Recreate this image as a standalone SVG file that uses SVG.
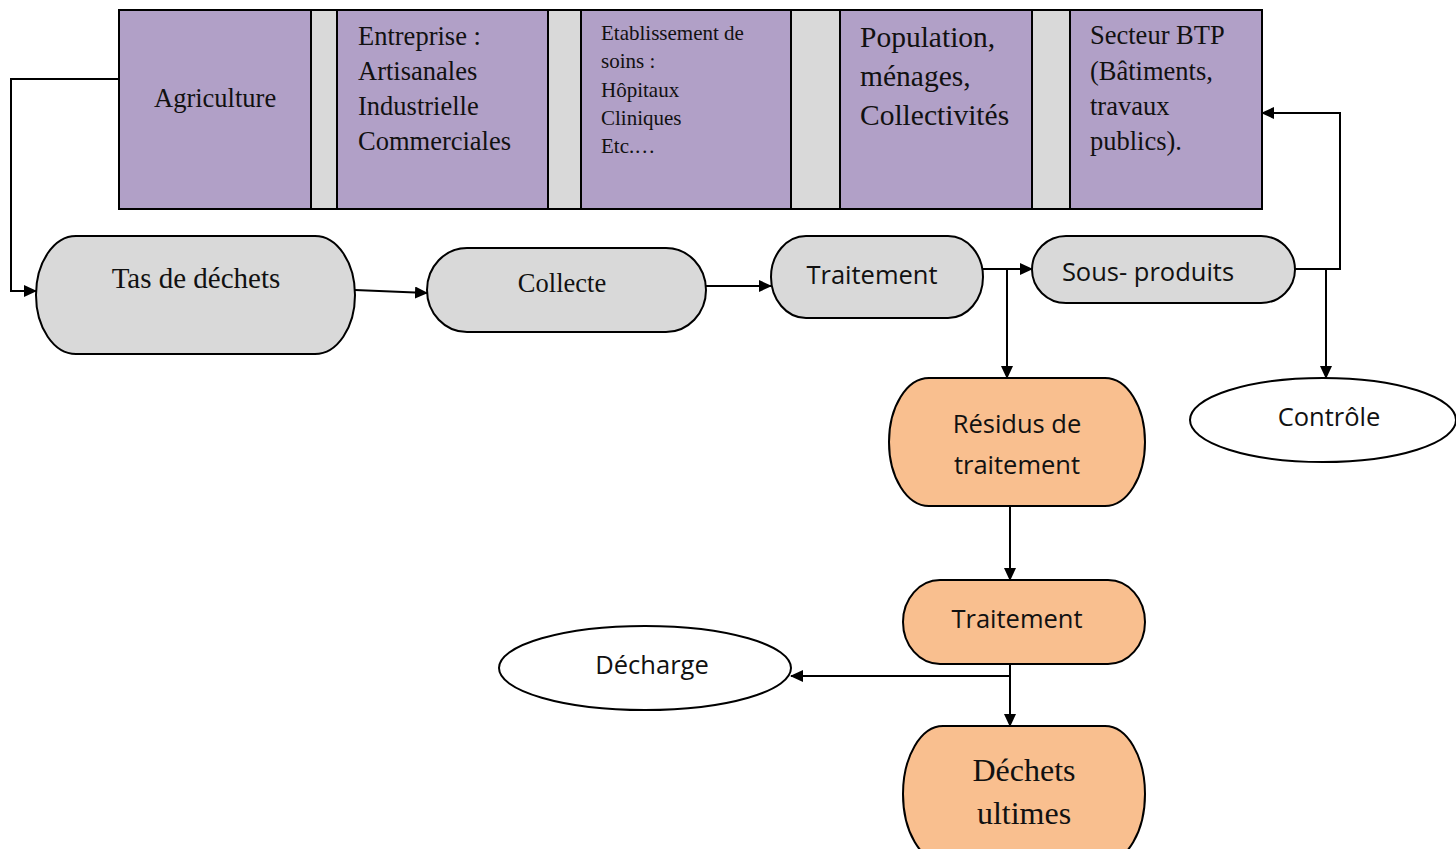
<svg xmlns="http://www.w3.org/2000/svg" width="1456" height="849" viewBox="0 0 1456 849">
<defs>
<marker id="ah" markerWidth="13" markerHeight="12" refX="12" refY="6" orient="auto" markerUnits="userSpaceOnUse">
<path d="M0,0 L13,6 L0,12 Z" fill="#000"/>
</marker>
<style>
.purple{fill:#B1A0C7;stroke:#000;stroke-width:2}
.sep{fill:#D9D9D9;stroke:#000;stroke-width:2}
.gray{fill:#D9D9D9;stroke:#000;stroke-width:2}
.orange{fill:#F9BF8F;stroke:#000;stroke-width:2}
.oval{fill:#fff;stroke:#000;stroke-width:2}
.serif{font-family:"Liberation Serif","Times New Roman",serif;fill:#111}
.sans{font-family:"Open Sans","Noto Sans",sans-serif;fill:#111}
.c{stroke:#000;stroke-width:2;fill:none}
</style>
</defs>
<rect width="1456" height="849" fill="#fff"/>

<g id="sources">
<rect class="purple" x="119" y="10" width="1143" height="199"/>
<g id="agriculture">
<rect class="purple" x="119" y="10" width="192" height="199"/>
<text class="serif" x="154" y="107" font-size="26.5">Agriculture</text>
</g>
<rect class="sep" x="311" y="10" width="26" height="199"/>
<g id="entreprise">
<rect class="purple" x="337" y="10" width="211" height="199"/>
<text class="serif" font-size="26.5"><tspan x="358" y="45">Entreprise :</tspan><tspan x="358" y="80">Artisanales</tspan><tspan x="358" y="115">Industrielle</tspan><tspan x="358" y="150">Commerciales</tspan></text>
</g>
<rect class="sep" x="548" y="10" width="33" height="199"/>
<g id="soins">
<rect class="purple" x="581" y="10" width="210" height="199"/>
<text class="serif" font-size="21"><tspan x="601" y="40">Etablissement de</tspan><tspan x="601" y="68">soins :</tspan><tspan x="601" y="97">Hôpitaux</tspan><tspan x="601" y="125">Cliniques</tspan><tspan x="601" y="153">Etc.…</tspan></text>
</g>
<rect class="sep" x="791" y="10" width="49" height="199"/>
<g id="population">
<rect class="purple" x="840" y="10" width="192" height="199"/>
<text class="serif" font-size="29.5"><tspan x="860" y="47">Population,</tspan><tspan x="860" y="86">ménages,</tspan><tspan x="860" y="125">Collectivités</tspan></text>
</g>
<rect class="sep" x="1032" y="10" width="38" height="199"/>
<g id="btp">
<rect class="purple" x="1070" y="10" width="192" height="199"/>
<text class="serif" font-size="26.5"><tspan x="1090" y="44">Secteur BTP</tspan><tspan x="1090" y="80">(Bâtiments,</tspan><tspan x="1090" y="115">travaux</tspan><tspan x="1090" y="150">publics).</tspan></text>
</g>
</g>

<g id="tas">
<path class="gray" d="M76,236 H315 A40,59 0 0 1 315,354 H76 A40,59 0 0 1 76,236 Z"/>
<text class="serif" x="196" y="288" font-size="29" text-anchor="middle">Tas de déchets</text>
</g>
<g id="collecte">
<path class="gray" d="M467,248 H666 A40,42 0 0 1 666,332 H467 A40,42 0 0 1 467,248 Z"/>
<text class="serif" x="562" y="292" font-size="26.5" text-anchor="middle">Collecte</text>
</g>
<g id="traitement1">
<path class="gray" d="M806,236 H948 A35,41 0 0 1 948,318 H806 A35,41 0 0 1 806,236 Z"/>
<text class="sans" x="872" y="284" font-size="25.5" text-anchor="middle">Traitement</text>
</g>
<g id="sousproduits">
<path class="gray" d="M1066,236 H1261 A34,33.5 0 0 1 1261,303 H1066 A34,33.5 0 0 1 1066,236 Z"/>
<text class="sans" x="1148" y="281" font-size="25.5" text-anchor="middle">Sous- produits</text>
</g>
<g id="controle">
<ellipse class="oval" cx="1323" cy="420" rx="133" ry="42"/>
<text class="sans" x="1329" y="426" font-size="25.5" text-anchor="middle">Contrôle</text>
</g>
<g id="residus">
<path class="orange" d="M929,378 H1105 A40,64 0 0 1 1105,506 H929 A40,64 0 0 1 929,378 Z"/>
<text class="sans" font-size="25.5" text-anchor="middle"><tspan x="1017" y="433">Résidus de</tspan><tspan x="1017" y="474">traitement</tspan></text>
</g>
<g id="traitement2">
<path class="orange" d="M940,580 H1108 A37,42 0 0 1 1108,664 H940 A37,42 0 0 1 940,580 Z"/>
<text class="sans" x="1017" y="628" font-size="25.5" text-anchor="middle">Traitement</text>
</g>
<g id="decharge">
<ellipse class="oval" cx="645" cy="668" rx="146" ry="42"/>
<text class="sans" x="652" y="674" font-size="25.5" text-anchor="middle">Décharge</text>
</g>
<g id="ultimes">
<path class="orange" d="M943,726 H1105 A40,68 0 0 1 1105,862 H943 A40,68 0 0 1 943,726 Z"/>
<text class="serif" font-size="32" text-anchor="middle"><tspan x="1024" y="781">Déchets</tspan><tspan x="1024" y="824">ultimes</tspan></text>
</g>

<g id="connectors">
<path class="c" d="M119,79 H11 V291 H36" marker-end="url(#ah)"/>
<path class="c" d="M355,290 L427,293" marker-end="url(#ah)"/>
<path class="c" d="M706,286 H771" marker-end="url(#ah)"/>
<path class="c" d="M983,269 H1032" marker-end="url(#ah)"/>
<path class="c" d="M1007,269 V378" marker-end="url(#ah)"/>
<path class="c" d="M1295,269 H1340 V113 H1262" marker-end="url(#ah)"/>
<path class="c" d="M1326,269 V378" marker-end="url(#ah)"/>
<path class="c" d="M1010,506 V580" marker-end="url(#ah)"/>
<path class="c" d="M1010,664 V726" marker-end="url(#ah)"/>
<path class="c" d="M1010,676 H791" marker-end="url(#ah)"/>
</g>
</svg>
